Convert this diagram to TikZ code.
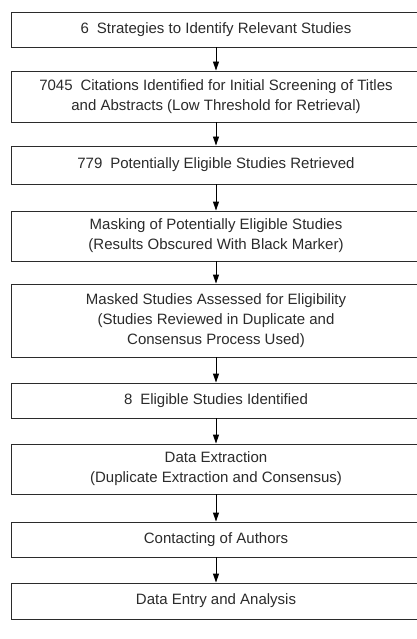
\documentclass[tikz,border=0pt]{standalone}
\usepackage{fontspec}
\setmainfont{Liberation Sans}
\usepackage{xcolor}
\usepackage{tikz}
\usetikzlibrary{arrows.meta, positioning}
\definecolor{boxLine}{HTML}{2B2B2B}
\definecolor{boxText}{HTML}{2B2B2B}
\tikzset{
    box_step/.style={
        rectangle, draw=boxLine, line width=0.9pt, fill=white,
        minimum width=410pt, inner sep=0pt,
        align=center, text=boxText, font=\fontsize{15}{20}\selectfont
    },
    flow_arrow/.style={
        -{Triangle[length=9pt, width=6pt]}, draw=black, line width=0.9pt
    }
}
\newcommand{\numgap}{\hspace{0.25em} }

\begin{document}
\begin{tikzpicture}[x=1pt, y=-1pt]
    % Page frame (boxes run past the right edge)
    \useasboundingbox (0,0) rectangle (417,639);
    \clip (0,0) rectangle (417,639);

    % Screening steps, top to bottom
    \node[box_step, minimum height=35pt] (s1) at (216, 29.5) {6\numgap Strategies to Identify Relevant Studies};
    \node[box_step, minimum height=51pt] (s2) at (216, 96.5) {7045\numgap Citations Identified for Initial Screening of Titles\\and Abstracts (Low Threshold for Retrieval)};
    \node[box_step, minimum height=38pt] (s3) at (216, 165) {779\numgap Potentially Eligible Studies Retrieved};
    \node[box_step, minimum height=50pt] (s4) at (216, 236) {Masking of Potentially Eligible Studies\\(Results Obscured With Black Marker)};
    \node[box_step, minimum height=73pt] (s5) at (216, 320.5) {Masked Studies Assessed for Eligibility\\(Studies Reviewed in Duplicate and\\Consensus Process Used)};
    \node[box_step, minimum height=35pt] (s6) at (216, 400.5) {8\numgap Eligible Studies Identified};

    % Data handling steps
    \node[box_step, minimum height=50pt] (s7) at (216, 469) {Data Extraction\\(Duplicate Extraction and Consensus)};
    \node[box_step, minimum height=35pt] (s8) at (216, 539.5) {Contacting of Authors};
    \node[box_step, minimum height=36pt] (s9) at (216, 601) {Data Entry and Analysis};

    % Downward flow
    \foreach \a/\b in {s1/s2, s2/s3, s3/s4, s4/s5, s5/s6, s6/s7, s7/s8, s8/s9}
        \draw[flow_arrow] (\a.south) -- (\b.north);
\end{tikzpicture}
\end{document}
